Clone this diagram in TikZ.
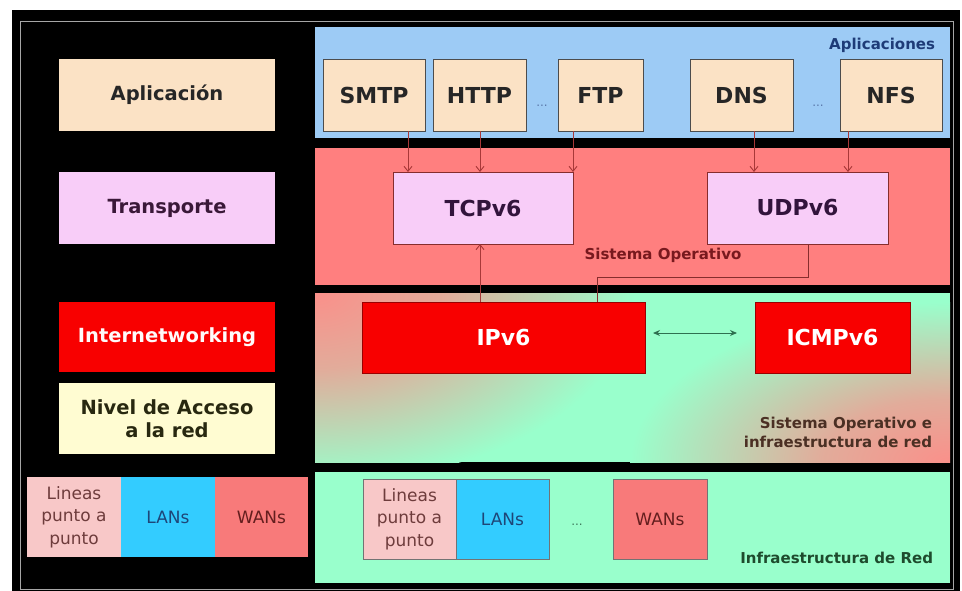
\documentclass[tikz,border=0pt]{standalone}
\usepackage{fontspec}
\setmainfont{DejaVu Sans}
\usetikzlibrary{arrows.meta}
\definecolor{bgblue}{HTML}{9DCBF5}
\definecolor{bgred}{HTML}{FF7F7F}
\definecolor{mint}{HTML}{99FFCC}
\definecolor{pinkG}{HTML}{FA908A}
\definecolor{peach}{HTML}{FBE2C5}
\definecolor{lilac}{HTML}{F8CDF8}
\definecolor{pred}{HTML}{F80000}
\definecolor{lyellow}{HTML}{FFFCD2}
\definecolor{lpink}{HTML}{F8C8C8}
\definecolor{lanblue}{HTML}{33CCFF}
\definecolor{wanred}{HTML}{F87A7A}
\definecolor{arrred}{HTML}{A83838}
\definecolor{arrgreen}{HTML}{2E7050}
\pgfdeclareradialshading{cornerfade}{\pgfpoint{0bp}{0bp}}{color(0bp)=(pinkG); color(10bp)=(pinkG!75!mint); color(25bp)=(mint); color(50bp)=(mint)}
\tikzset{
  every node/.style={inner sep=0pt, outer sep=0pt},
  panel/.style={anchor=north west},
  lbox/.style={font=\bfseries\fontsize{19.5}{23}\selectfont, text=black!85, align=center},
  pbox/.style={draw=black!70, line width=0.8pt, font=\bfseries\fontsize{22}{26}\selectfont, text=black!85, minimum height=72pt},
  tbox/.style={draw=arrred!80!black, line width=0.8pt, fill=lilac, font=\bfseries\fontsize{22}{26}\selectfont, text={rgb,255:red,50;green,20;blue,60}, minimum height=72pt},
  ibox/.style={draw=red!60!black, line width=0.6pt, fill=pred, font=\bfseries\fontsize{22}{26}\selectfont, text=white, minimum height=71pt},
  sbox/.style={font=\fontsize{17}{22.5}\selectfont, align=center, minimum height=80pt},
  sboxr/.style={sbox, draw=black!55, line width=0.8pt},
  plabel/.style={font=\bfseries\fontsize{15}{19}\selectfont},
  darr/.style={draw=arrred, line width=0.9pt, -{Straight Barb[length=5pt,width=8pt]}},
  conn/.style={draw=arrred!80!black, line width=0.9pt},
  dots/.style={font=\fontsize{12}{14}\selectfont}
}
\begin{document}
\begin{tikzpicture}[x=1pt,y=-1pt]
\useasboundingbox (0,0) rectangle (962,591);
\fill[white] (0,0) rectangle (962,591);
\fill[black] (12,10) rectangle (960,591);
\draw[black!35, line width=0.8pt] (20,21) rectangle (953,589);

% left column
\node[lbox, fill=peach, minimum width=216pt, minimum height=72pt] (appL) at (167,95) {Aplicación};
\node[lbox, fill=lilac, minimum width=216pt, minimum height=72pt, text={rgb,255:red,58;green,24;blue,56}] (trL) at (167,208) {Transporte};
\node[lbox, fill=pred, minimum width=216pt, minimum height=70pt, text=white!92!pink] (inetL) at (167,337) {Internetworking};
\node[lbox, fill=lyellow, minimum width=216pt, minimum height=71pt, text={rgb,255:red,40;green,40;blue,16}] (accL) at (167,418.5) {Nivel de Acceso\\a la red};
\node[sbox, fill=lpink, minimum width=94pt, text={rgb,255:red,110;green,60;blue,60}] (linL) at (74,517) {Lineas\\punto a\\punto};
\node[sbox, fill=lanblue, minimum width=94pt, text={rgb,255:red,30;green,70;blue,120}] (lanL) at (168,517) {LANs};
\node[sbox, fill=wanred, minimum width=93pt, text={rgb,255:red,100;green,30;blue,30}] (wanL) at (261.5,517) {WANs};

% right panels
\node[panel, fill=bgblue, minimum width=635pt, minimum height=111pt] (appP) at (315,27) {};
\node[panel, fill=bgred, minimum width=635pt, minimum height=137pt] (soP) at (315,148) {};
\node[panel, fill=mint, minimum width=635pt, minimum height=169pt] (netP) at (315,293) {};
\begin{scope}
  \clip (netP.north west) rectangle (netP.south east);
  \shade[shading=cornerfade] (netP.north west) ellipse [x radius=320pt, y radius=190pt];
  \shade[shading=cornerfade] (netP.south east) ellipse [x radius=320pt, y radius=160pt];
\end{scope}
\node[panel, fill=mint, minimum width=635pt, minimum height=111pt] (infP) at (315,472) {};

% panel labels
\node[plabel, anchor=east, text={rgb,255:red,30;green,60;blue,120}] (lblApp) at (935,45) {Aplicaciones};
\node[plabel, text={rgb,255:red,120;green,25;blue,30}] (lblSO) at (663,255) {Sistema Operativo};
\node[plabel, anchor=east, align=right, text={rgb,255:red,75;green,48;blue,36}] (lblNet) at (932,432) {Sistema Operativo e\\infraestructura de red};
\node[plabel, anchor=east, text={rgb,255:red,30;green,75;blue,45}] (lblInf) at (933,558) {Infraestructura de Red};

% application boxes
\node[pbox, fill=peach, minimum width=102pt] (smtp) at (374,95) {SMTP};
\node[pbox, fill=peach, minimum width=93pt] (http) at (479.5,95) {HTTP};
\node[dots, text={rgb,255:red,90;green,120;blue,170}] (d1) at (542,106) {...};
\node[pbox, fill=peach, minimum width=85pt] (ftp) at (600.5,95) {FTP};
\node[pbox, fill=peach, minimum width=103pt] (dns) at (741.5,95) {DNS};
\node[dots, text={rgb,255:red,90;green,120;blue,170}] (d2) at (818,106) {...};
\node[pbox, fill=peach, minimum width=102pt] (nfs) at (891,95) {NFS};

% transport boxes
\node[tbox, minimum width=180pt] (tcp) at (483,208) {TCPv6};
\node[tbox, minimum width=181pt] (udp) at (797.5,208) {UDPv6};

% network boxes
\node[ibox, minimum width=283pt] (ip) at (503.5,337.5) {IPv6};
\node[ibox, minimum width=155pt] (icmp) at (832.5,337.5) {ICMPv6};

% bottom boxes
\node[sboxr, fill=lpink, minimum width=93pt, text={rgb,255:red,110;green,60;blue,60}] (linR) at (409.5,519) {Lineas\\punto a\\punto};
\node[sboxr, fill=lanblue, minimum width=93pt, text={rgb,255:red,30;green,70;blue,120}] (lanR) at (502.5,519) {LANs};
\node[dots, text={rgb,255:red,60;green,120;blue,90}] (d3) at (577,525) {...};
\node[sboxr, fill=wanred, minimum width=94pt, text={rgb,255:red,100;green,30;blue,30}] (wanR) at (660,519) {WANs};

% arrows apps -> transport
\draw[darr] ([xshift=34pt]smtp.south) -- ([xshift=34pt]smtp.south |- tcp.north);
\draw[darr] ([xshift=0.5pt]http.south) -- ([xshift=0.5pt]http.south |- tcp.north);
\draw[darr] ([xshift=-27.5pt]ftp.south) -- ([xshift=-27.5pt]ftp.south |- tcp.north);
\draw[darr] ([xshift=12.5pt]dns.south) -- ([xshift=12.5pt]dns.south |- udp.north);
\draw[darr] ([xshift=-43pt]nfs.south) -- ([xshift=-43pt]nfs.south |- udp.north);

% transport <-> network
\draw[darr] ([xshift=-23.5pt]ip.north) -- ([xshift=-23.5pt]ip.north |- tcp.south);
\coordinate (bend) at (597,277);
\draw[conn] ([xshift=10.5pt]udp.south) |- (bend) -- (bend |- ip.north);

% IPv6 <-> ICMPv6
\draw[draw=arrgreen, line width=1pt, {Stealth[length=7pt,width=6pt]}-{Stealth[length=7pt,width=6pt]}, shorten <=8pt, shorten >=18pt] ([yshift=4.5pt]ip.east) -- ([yshift=4.5pt]icmp.west);
\end{tikzpicture}
\end{document}
